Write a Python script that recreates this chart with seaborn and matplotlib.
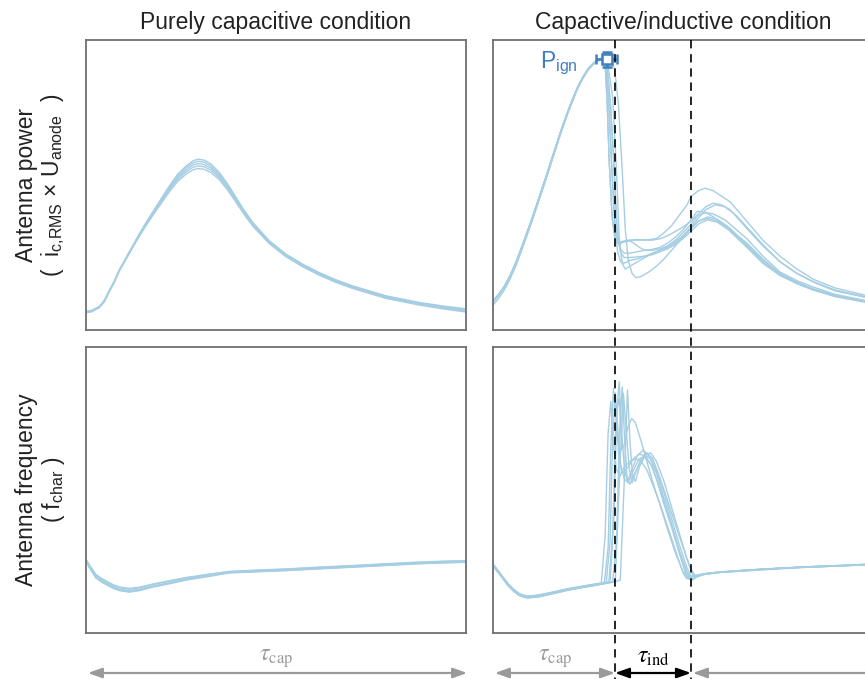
import numpy as np
import pandas as pd
import matplotlib
matplotlib.use("Agg")
import matplotlib.pyplot as plt
import matplotlib.transforms as mtransforms
from matplotlib.lines import Line2D
from matplotlib.patches import FancyArrowPatch
import seaborn as sns

# ---------------- data ----------------
TITLES = ["Purely capacitive condition", "Capactive/inductive condition"]
YLABEL_TOP = "Antenna power\n(  $\\mathregular{i_{c{,}RMS}}$ × $\\mathregular{U_{anode}}$  )"
YLABEL_BOT = "Antenna frequency\n( $\\mathregular{f_{char}}$ )"

# top-left: antenna power, purely capacitive
X_TL = [0, 1.5, 3.5, 4.8, 6.0, 7.4, 8.8, 11.0, 13.2, 15.5, 17.5, 19.7, 21.9, 24.1, 26.3, 28.1, 29.4, 31.1,
        32.9, 35.1, 37.3, 39.5, 41.7, 43.9, 48.2, 52.6, 57.0, 61.4, 65.8, 70.2, 78.9, 87.7, 93.8, 100]
Y_TL = [
    [6.5, 6.8, 8.1, 10.2, 13.3, 16.8, 20.8, 26.0, 31.2, 36.4, 40.6, 45.1, 49.6, 53.7, 56.5, 58.3, 58.9, 58.6, 57.2,
     54.3, 50.3, 45.7, 41.1, 37.1, 30.8, 26.2, 22.7, 19.8, 17.3, 15.2, 11.8, 9.5, 8.3, 7.3],
    [6.3, 6.6, 8.0, 10.0, 13.2, 16.6, 20.7, 25.9, 31.0, 36.2, 40.3, 44.8, 49.2, 53.1, 55.9, 57.6, 58.2, 57.9, 56.5,
     53.7, 49.8, 45.3, 40.8, 36.8, 30.6, 26.0, 22.5, 19.6, 17.1, 15.0, 11.6, 9.3, 8.1, 7.1],
    [6.2, 6.5, 7.9, 9.9, 13.1, 16.5, 20.6, 25.8, 30.9, 36.0, 40.0, 44.4, 48.7, 52.5, 55.2, 56.9, 57.4, 57.1, 55.8,
     53.1, 49.3, 44.9, 40.5, 36.5, 30.3, 25.8, 22.3, 19.4, 16.9, 14.8, 11.4, 9.1, 7.8, 6.8],
    [6.1, 6.4, 7.8, 9.8, 13.0, 16.4, 20.5, 25.6, 30.7, 35.7, 39.7, 44.0, 48.2, 51.9, 54.5, 56.1, 56.6, 56.3, 55.1,
     52.5, 48.8, 44.5, 40.1, 36.2, 30.1, 25.6, 22.1, 19.2, 16.7, 14.6, 11.2, 8.9, 7.6, 6.5],
    [6.0, 6.3, 7.7, 9.7, 12.9, 16.3, 20.4, 25.5, 30.5, 35.4, 39.3, 43.5, 47.6, 51.2, 53.7, 55.2, 55.7, 55.4, 54.3,
     51.8, 48.2, 44.0, 39.7, 35.8, 29.8, 25.3, 21.8, 18.9, 16.4, 14.3, 10.9, 8.6, 7.3, 6.2],
]

# bottom-left: antenna frequency, purely capacitive
X_BL = [0, 0.9, 2.6, 4.0, 5.3, 7.0, 8.8, 11.4, 14, 17.5, 22, 26.3, 32, 37.7, 45, 52.6, 61, 70.2, 79, 87.7, 94, 100]
Y_BL = [
    [25.6, 23.6, 20.2, 18.9, 17.9, 16.7, 15.8, 15.3, 15.8, 16.9, 18.1, 19.2, 20.4, 21.5, 21.9, 22.3, 22.9, 23.5, 24.1, 24.7, 25.0, 25.2],
    [25.3, 23.2, 19.7, 18.4, 17.4, 16.2, 15.3, 14.8, 15.3, 16.4, 17.6, 18.8, 20.0, 21.2, 21.6, 22.0, 22.6, 23.2, 23.8, 24.4, 24.7, 24.9],
    [25.0, 22.8, 19.2, 17.9, 16.9, 15.7, 14.8, 14.3, 14.8, 16.0, 17.2, 18.5, 19.7, 21.0, 21.4, 21.8, 22.4, 23.0, 23.6, 24.2, 24.5, 24.7],
    [25.4, 23.0, 19.4, 18.1, 17.1, 15.9, 15.0, 14.5, 15.0, 16.2, 17.4, 18.6, 19.9, 21.1, 21.5, 21.9, 22.5, 23.1, 23.7, 24.3, 24.6, 24.8],
    [25.8, 23.8, 20.5, 19.2, 18.2, 17.0, 16.1, 15.6, 16.0, 17.1, 18.3, 19.4, 20.5, 21.5, 22.0, 22.4, 23.0, 23.6, 24.2, 24.8, 25.1, 25.3],
]

# top-right: antenna power, capacitive/inductive
# shared rising part (before ignition), one y list per run
X_TR_RISE = [0, 1.5, 3, 4.5, 6, 8, 10, 12, 14, 16, 18, 20, 22, 23.5, 25, 26.5, 28]
Y_TR_RISE = [
    [9.6, 11.9, 14.7, 18.4, 22.8, 29.8, 37.1, 44.8, 52.7, 60.8, 68.8, 76.1, 82.6, 86.5, 89.7, 91.8, 93.2],
    [10.0, 12.3, 15.1, 18.8, 23.2, 30.2, 37.5, 45.2, 53.1, 61.2, 69.2, 76.5, 83.0, 86.9, 90.1, 92.2, 93.5],
    [9.8, 12.1, 14.9, 18.6, 23.0, 30.0, 37.3, 45.0, 52.9, 61.0, 69.0, 76.3, 82.8, 86.7, 89.9, 92.0, 93.3],
    [9.7, 12.0, 14.8, 18.5, 22.9, 29.9, 37.2, 44.9, 52.8, 60.9, 68.9, 76.2, 82.7, 86.6, 89.8, 91.9, 93.2],
    [8.6, 10.9, 13.8, 17.6, 22.0, 29.1, 36.4, 44.2, 52.1, 60.3, 68.4, 75.8, 82.4, 86.4, 89.6, 91.7, 93.0],
    [10.0, 12.3, 15.0, 18.7, 23.1, 30.1, 37.4, 45.1, 53.0, 61.1, 69.1, 76.4, 82.9, 86.8, 90.0, 92.1, 93.4],
    [9.9, 12.2, 15.0, 18.7, 23.1, 30.1, 37.4, 45.1, 53.0, 61.1, 69.1, 76.4, 82.9, 86.8, 90.0, 92.1, 93.4],
    [9.8, 12.1, 14.9, 18.6, 23.0, 30.0, 37.3, 45.0, 52.9, 61.0, 69.0, 76.3, 82.8, 86.7, 89.9, 92.0, 93.3],
]
# per-run part after ignition
X_TR_AFTER = [
    [29.6, 30.4, 31.2, 32.0, 32.8, 33.6, 35, 37, 39, 41, 43, 45, 47, 49, 51,
     52.1, 54, 55.8, 58, 62.4, 66.8, 71, 75.5, 80, 84.3, 90, 97.9, 100],
    [29.4, 30.0, 30.6, 31.3, 32.0, 32.8, 34, 36, 38, 40, 42, 44, 46, 48, 50,
     52.1, 54, 56, 57.9, 60, 62.4, 66.8, 71, 75.5, 80, 84.3, 90, 97.9, 100],
    [29.8, 30.9, 31.8, 32.6, 33.4, 34.5, 36, 38, 40, 42, 44, 46, 48, 50,
     52.1, 54, 56, 58.5, 61, 64, 66.8, 71, 75.5, 80, 84.3, 90, 97.9, 100],
    [30, 31.5, 32.4, 33.2, 34, 34.8, 36, 38, 40, 42, 44, 46, 48, 50,
     52.1, 54, 56.5, 59, 62, 66.8, 71, 75.5, 80, 84.3, 90, 97.9, 100],
    [30, 32, 33, 33.9, 34.8, 35.6, 36.6, 37.6, 39, 41, 43, 45, 47, 49, 51,
     52.1, 54, 56.5, 59, 62, 66.8, 71, 75.5, 80, 84.3, 90, 97.9, 100],
    [29.5, 30.4, 31.2, 32.0, 32.8, 33.6, 34.5, 36, 38, 40, 42, 44, 46, 48, 50,
     52.1, 54, 56, 58, 61, 66.8, 71, 75.5, 80, 84.3, 90, 97.9, 100],
    [29.4, 30.0, 30.6, 31.4, 32.2, 33.2, 34.2, 35.5, 37, 38.5, 40, 42, 44, 46, 48, 50,
     52.1, 53.8, 56, 58, 61, 66.8, 71, 75.5, 80, 84.3, 90, 97.9, 100],
    [29.8, 30.9, 31.8, 32.6, 33.5, 34.5, 36, 38, 40, 42, 44, 46, 48, 50,
     52.1, 54, 56.5, 59, 62, 66.8, 71, 75.5, 80, 84.3, 90, 97.9, 100],
]
Y_TR_AFTER = [
    [94.0, 80, 57.6, 38, 31, 30, 30.5, 31, 31, 31.2, 31.5, 33.5, 36, 39.5, 43,
     46, 48, 48.9, 48, 44.2, 37.5, 31, 25.5, 21, 17.5, 14.5, 12, 11.5],
    [94.2, 80, 57.6, 40, 32, 30, 30.5, 31, 31.2, 31.0, 31.0, 31.5, 32.5, 34, 35.5,
     37.5, 40, 42.5, 43.7, 43.2, 41.5, 35, 29, 23.6, 19.5, 16.7, 13.8, 11.5, 11.0],
    [94.0, 78, 57.6, 36, 28, 26.5, 26.5, 27, 27.5, 27.5, 28, 29, 30.5, 32.5,
     35.5, 38.5, 41.5, 43.2, 42.5, 39.5, 35.5, 29.5, 23.5, 19.5, 16.5, 13.5, 11.3, 10.8],
    [94.0, 80, 57.6, 32, 23, 21, 22, 23.5, 25, 26.5, 27.5, 28.5, 30, 32,
     35, 37.5, 39, 38.2, 35.5, 29.5, 24, 19.5, 16.5, 14.2, 12, 9.9, 9.5],
    [94.0, 90, 78, 57.6, 35, 24, 19.5, 18, 18.5, 20, 22, 24.5, 27.5, 30.5, 33.5,
     35, 37.5, 38.5, 37.5, 35, 29, 23.5, 19, 16, 13.8, 11.5, 9.6, 9.2],
    [94.1, 80, 57.6, 37, 27, 23.5, 23, 24, 24.5, 25.5, 26.5, 27.5, 29, 31, 33.5,
     36.5, 39.5, 40.5, 40, 38, 31.5, 25.5, 20, 17, 14.8, 12.3, 10.2, 9.8],
    [94.1, 80, 57.6, 38, 31.5, 29.5, 30.5, 31, 30, 28.5, 27.5, 27.8, 28.5, 30, 32, 34.5,
     38, 41.0, 40.5, 39, 36, 30, 24.5, 19.5, 16.2, 14.0, 11.8, 9.8, 9.4],
    [94.0, 78, 57.6, 35, 27, 25, 25, 25.2, 25.5, 26, 27, 28, 29.5, 31.5,
     34, 36.5, 38, 37.2, 34.5, 28.5, 23, 18.8, 16, 13.8, 11.8, 9.8, 9.4],
]

# bottom-right: antenna frequency, capacitive/inductive
X_BR_PRE = [0, 1, 2, 3, 4, 5.5, 7, 9, 12, 16, 20, 24]
Y_BR_PRE = [
    [23.8, 22.0, 20.3, 18.5, 16.8, 14.8, 13.3, 12.5, 12.9, 14.1, 15.3, 16.2],
    [24.2, 22.4, 20.7, 18.9, 17.2, 15.2, 13.7, 12.9, 13.3, 14.4, 15.6, 16.5],
    [23.5, 21.7, 20.0, 18.2, 16.5, 14.5, 13.0, 12.2, 12.6, 13.8, 15.0, 16.0],
    [24.0, 22.2, 20.5, 18.7, 17.0, 15.0, 13.5, 12.7, 13.1, 14.2, 15.4, 16.3],
    [23.6, 21.8, 20.1, 18.3, 16.6, 14.6, 13.1, 12.3, 12.7, 13.9, 15.1, 16.0],
    [24.1, 22.3, 20.6, 18.8, 17.1, 15.1, 13.6, 12.8, 13.2, 14.3, 15.5, 16.4],
    [23.9, 22.1, 20.4, 18.6, 16.9, 14.9, 13.4, 12.6, 13.0, 14.1, 15.3, 16.2],
    [23.7, 21.9, 20.2, 18.4, 16.7, 14.7, 13.2, 12.4, 12.8, 14.0, 15.2, 16.1],
]
X_BR_AFTER = [
    [28, 29.3, 30.3, 31.0, 31.7, 32.4, 33.2, 34.2, 35.5, 37, 38.5, 40, 42, 44, 46, 48, 50,
     51, 53, 55, 60, 70, 80, 90, 100],
    [28, 30.5, 31.5, 32.3, 33.2, 33.9, 34.6, 35.4, 36.5, 38, 39.5, 41, 43, 45, 47, 49, 51,
     52.5, 54, 56, 60, 70, 80, 90, 100],
    [28, 31, 32.2, 33.3, 34.3, 35.0, 35.8, 36.6, 37.5, 39, 40.5, 42, 44, 46, 48, 50, 52,
     53.5, 55, 58, 65, 75, 85, 95, 100],
    [28, 30.8, 31.8, 32.6, 33.2, 33.9, 34.6, 35.5, 36.5, 37.5, 39, 40.5, 42, 44, 46, 48, 50, 51.5,
     52.5, 54, 57, 65, 75, 85, 95, 100],
    [28, 32, 33.5, 34.6, 35.4, 36.0, 36.7, 37.5, 38.5, 40, 41.5, 43, 45, 47, 49, 51, 52.5,
     54, 56, 60, 70, 80, 90, 100],
    [27.5, 29.8, 30.8, 31.5, 32.2, 32.9, 33.6, 34.5, 35.5, 37, 38.5, 40, 41.5, 43, 45, 47, 49, 50.5, 52,
     54, 58, 65, 75, 85, 95, 100],
    [27, 28.5, 29.5, 30.3, 31.0, 31.7, 32.5, 33.5, 34.5, 36, 37.5, 39, 40.5, 42, 44, 46, 48, 50, 51,
     53, 56, 60, 70, 80, 90, 100],
    [28, 31.5, 32.5, 33.3, 34.0, 34.7, 35.3, 36, 37, 38.5, 40, 41.5, 43, 45, 47, 49, 51, 52,
     53.5, 55, 60, 70, 80, 90, 100],
]
Y_BR_AFTER = [
    [17.1, 17.6, 30, 65, 85.5, 75, 60, 56, 58, 61, 62.5, 62, 58, 50, 42, 33, 24,
     19.5, 20, 20.6, 21.4, 22.3, 23, 23.5, 24.2],
    [17.4, 17.9, 35, 72, 87.9, 70, 57, 53, 57, 62, 64, 62, 56, 47, 38, 29, 21.5,
     18.5, 20, 20.8, 21.2, 22.1, 22.9, 23.4, 24.0],
    [16.9, 17.7, 18.5, 55, 83.8, 72, 58, 52.5, 56, 61, 63, 61, 54, 46, 38, 30, 22.5,
     19.5, 20.4, 21.1, 21.8, 22.6, 23.2, 23.7, 24.0],
    [17.2, 17.8, 40, 78, 82, 64, 66, 72, 75, 73.5, 67, 60, 53, 44.5, 36, 28, 21.5, 18.8,
     19.5, 20.3, 21.0, 21.8, 22.6, 23.3, 23.8, 24.1],
    [17.0, 17.9, 18.5, 55, 85, 68, 55, 53, 58, 62, 63, 60, 53, 44, 35, 26, 20.5,
     19.8, 20.6, 21.3, 22.2, 22.9, 23.4, 24.0],
    [17.1, 17.5, 32, 68, 84, 70, 59, 54, 52.5, 57, 61, 61.5, 59, 54, 45, 37, 28, 22, 18.5,
     20.2, 21.0, 21.8, 22.6, 23.3, 23.8, 24.1],
    [16.9, 17.3, 34, 70, 81, 66, 57, 55, 58, 60, 61, 60, 57, 52, 45, 37, 29, 21, 19,
     20.0, 20.7, 21.3, 22.2, 22.9, 23.4, 24.1],
    [17.0, 17.8, 32, 70, 86, 66, 54, 52, 55, 59, 62, 61, 57, 49, 40, 31, 23, 20,
     19.6, 20.4, 21.2, 22.0, 22.8, 23.4, 23.9],
]

DASH_X = [32.1, 52.1]            # phase boundaries in the right panels
PIGN_X = [29.9]
PIGN_Y = [93.3]
PIGN_XERR = [2.8]
PIGN_YERR = [2.6]
TAU_LABELS = [r"$\tau_{\mathrm{cap}}$", r"$\tau_{\mathrm{cap}}$", r"$\tau_{\mathrm{ind}}$"]

# ---------------- style ----------------
sns.set_style("white")
plt.rcParams["font.family"] = ["Liberation Sans", "DejaVu Sans"]
plt.rcParams["mathtext.fontset"] = "stix"

LINE_C = "#a6cee3"
BLUE = "#3f7fbf"
GRAY = "#9a9a9a"
SPINE_C = "#707070"


def to_long(xs_list, ys_list):
    frames = []
    for i, (xs, ys) in enumerate(zip(xs_list, ys_list)):
        frames.append(pd.DataFrame({"x": xs, "y": ys, "run": i}))
    return pd.concat(frames, ignore_index=True)


df_tl = to_long([X_TL] * len(Y_TL), Y_TL)
df_bl = to_long([X_BL] * len(Y_BL), Y_BL)
df_tr = to_long([X_TR_RISE + xa for xa in X_TR_AFTER],
                [yr + ya for yr, ya in zip(Y_TR_RISE, Y_TR_AFTER)])
df_br = to_long([X_BR_PRE + xa for xa in X_BR_AFTER],
                [yp + ya for yp, ya in zip(Y_BR_PRE, Y_BR_AFTER)])

W, H = 865, 679
fig = plt.figure(figsize=(W / 100, H / 100), dpi=100)


def px_axes(x0, y0, x1, y1):
    return fig.add_axes([x0 / W, (H - y1) / H, (x1 - x0) / W, (y1 - y0) / H])


ax_tl = px_axes(86, 40, 466, 330)
ax_bl = px_axes(86, 347, 466, 633)
ax_tr = px_axes(493, 40, 873, 330)
ax_br = px_axes(493, 347, 873, 633)

for ax, df in [(ax_tl, df_tl), (ax_bl, df_bl), (ax_tr, df_tr), (ax_br, df_br)]:
    sns.lineplot(data=df, x="x", y="y", units="run", estimator=None, color=LINE_C,
                 lw=1.0, legend=False, ax=ax)
    ax.set_xlim(0, 100)
    ax.set_ylim(0, 100)
    ax.set_xticks([])
    ax.set_yticks([])
    ax.set_xlabel("")
    ax.set_ylabel("")
    for s in ax.spines.values():
        s.set_color(SPINE_C)
        s.set_linewidth(1.3)

ax_tl.set_title(TITLES[0], fontsize=16.5, color="#222222", pad=8)
ax_tr.set_title(TITLES[1], fontsize=16.5, color="#222222", pad=8)

# y labels
fig.text(41 / W, 1 - 185 / H, YLABEL_TOP, rotation=90, ha="center", va="center",
         fontsize=16.5, color="#222222", multialignment="center", linespacing=1.1)
fig.text(41 / W, 1 - 490 / H, YLABEL_BOT, rotation=90, ha="center", va="center",
         fontsize=16.5, color="#222222", multialignment="center", linespacing=1.1)

# P_ign marker with error bars
ax_tr.errorbar(PIGN_X, PIGN_Y, xerr=PIGN_XERR, yerr=PIGN_YERR, fmt="s", ms=7,
               mfc="white", mec=BLUE, mew=1.8, ecolor=BLUE, elinewidth=1.8,
               capsize=3.5, capthick=1.8, zorder=5, clip_on=False)
ax_tr.text(22.3, PIGN_Y[0] - 1.5, "$\\mathregular{P_{ign}}$", color=BLUE,
           fontsize=16.5, ha="right", va="center")

# dashed phase lines spanning both right panels and the annotation strip
bt = mtransforms.blended_transform_factory(ax_tr.transData, fig.transFigure)
for xd in DASH_X:
    fig.add_artist(Line2D([xd, xd], [(H - 40) / H, 0], transform=bt, color="black",
                          lw=1.2, ls=(0, (5, 3.5)), clip_on=False))

# duration arrows
y_arr = (H - 673) / H
y_lab = (H - 659) / H
btl = mtransforms.blended_transform_factory(ax_tl.transData, fig.transFigure)


def darrow(tr, x0, x1, color, lw=1.6):
    p = FancyArrowPatch((x0, y_arr), (x1, y_arr), transform=tr,
                        arrowstyle="<|-|>,head_length=0.7,head_width=0.25",
                        mutation_scale=12, color=color, lw=lw, shrinkA=0, shrinkB=0,
                        clip_on=False)
    fig.add_artist(p)


darrow(btl, 0.5, 100.3, GRAY)
darrow(bt, 0.5, DASH_X[0], GRAY)
darrow(bt, DASH_X[0], DASH_X[1], "black")
darrow(bt, DASH_X[1] + 0.5, 106, GRAY)

fig.text(50, y_lab, TAU_LABELS[0], transform=btl, ha="center", va="center",
         fontsize=17, color=GRAY)
fig.text(DASH_X[0] / 2 + 0.3, y_lab, TAU_LABELS[1], transform=bt, ha="center",
         va="center", fontsize=17, color=GRAY)
fig.text((DASH_X[0] + DASH_X[1]) / 2, y_lab + 0.003, TAU_LABELS[2], transform=bt,
         ha="center", va="center", fontsize=17, color="black")

fig.savefig("out.png", dpi=100, facecolor="white")
